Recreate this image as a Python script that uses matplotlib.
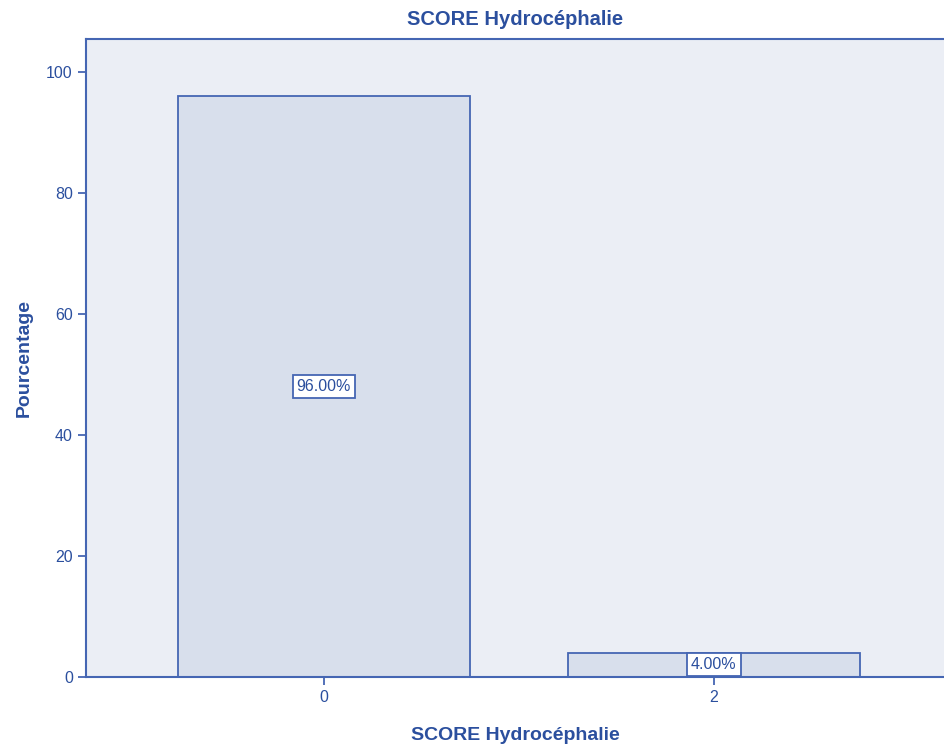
import matplotlib
matplotlib.use("Agg")
import matplotlib.pyplot as plt

# Données du graphique
categories = ["0", "2"]
pourcentages = [96.0, 4.0]
etiquettes = ["96.00%", "4.00%"]

BLEU_TEXTE = "#2b4f9e"
BLEU_TRAIT = "#4566b3"
FOND = "#ebeef5"
BARRE = "#d8dfec"

plt.rcParams['font.family'] = ['Liberation Sans', 'DejaVu Sans']

fig = plt.figure(figsize=(9.44, 7.51), dpi=100)
ax = fig.add_axes([86 / 944, 1 - 677 / 751, 858 / 944, (677 - 39) / 751])
ax.set_facecolor(FOND)

positions = list(range(len(categories)))
ax.bar(positions, pourcentages, width=0.75, color=BARRE, edgecolor=BLEU_TRAIT, linewidth=1.3, zorder=2)

# Étiquettes de pourcentage au milieu de chaque barre
for x, v, txt in zip(positions, pourcentages, etiquettes):
    ax.text(x, v / 2, txt, ha='center', va='center', fontsize=11.5, color=BLEU_TEXTE, zorder=3,
            bbox=dict(boxstyle='square,pad=0.25', facecolor='white', edgecolor=BLEU_TRAIT, linewidth=1.3))

ax.set_xlim(-0.61, 1.59)
ax.set_ylim(0, 105.5)
ax.set_xticks(positions)
ax.set_xticklabels(categories)
ax.set_yticks([0, 20, 40, 60, 80, 100])

for s in ['left', 'top', 'bottom']:
    ax.spines[s].set_color(BLEU_TRAIT)
    ax.spines[s].set_linewidth(1.5)
ax.spines['right'].set_visible(False)

ax.tick_params(axis='both', colors=BLEU_TRAIT, labelcolor=BLEU_TEXTE, labelsize=11.5, length=6, width=1.3, direction='out')

ax.set_title('SCORE Hydrocéphalie', fontsize=14.5, fontweight='bold', color=BLEU_TEXTE, pad=10)
ax.set_xlabel('SCORE Hydrocéphalie', fontsize=14, fontweight='bold', color=BLEU_TEXTE, labelpad=16)
ax.set_ylabel('Pourcentage', fontsize=14, fontweight='bold', color=BLEU_TEXTE, labelpad=10)

fig.savefig('out.png', dpi=100)
